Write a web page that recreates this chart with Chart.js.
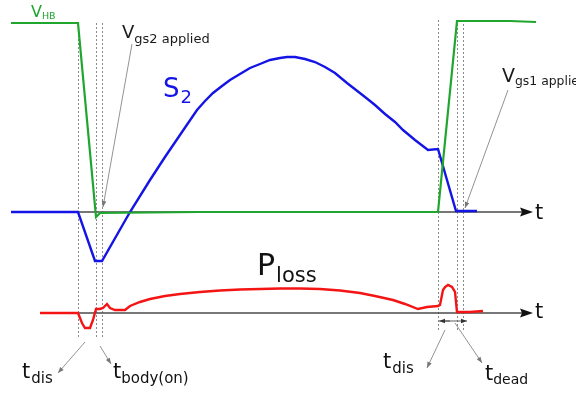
<!DOCTYPE html>
<html><head><meta charset="utf-8">
<script src="https://cdn.jsdelivr.net/npm/chart.js@4/dist/chart.umd.min.js"></script>
<style>html,body{margin:0;padding:0;background:#fff}#wrap{width:576px;height:396px}</style>
</head><body><div id="wrap"><canvas id="c" width="576" height="396"></canvas></div>
<script>
// ---- data (time units along x, level units along y; y grows downward) ----
const vhbT = [11, 78, 96, 100, 200, 300, 438, 457, 510, 536];
const vhbV = [23, 23, 217, 213, 212, 212, 212, 21, 21, 22];

const s2T = [11, 78, 95, 102, 130, 150, 165, 182, 197, 205, 213, 222, 230, 240, 250, 260, 270, 280, 287, 295, 305, 315, 325, 335, 347, 356, 365, 375, 385, 395, 403, 415, 428, 438, 456, 477];
const s2V = [212, 212, 261, 261, 212, 180, 157, 132, 110, 101, 93, 86, 80, 74, 68, 64, 60, 58, 57, 57, 59, 62, 67, 73, 83, 90, 97, 105, 114, 122, 130, 140, 150, 149, 211, 211];

const plossT = [40, 78, 82, 85, 90, 93, 96, 100, 103, 107, 110, 115, 125, 130, 140, 150, 165, 180, 200, 220, 240, 260, 280, 300, 320, 340, 360, 375, 393, 405, 418, 427, 438, 440, 443, 445, 448, 452, 455, 457, 470, 483];
const plossV = [313, 313, 323, 328, 328, 320, 309, 309, 308, 304, 308, 310, 310, 306, 302, 299, 296, 294, 292, 290.5, 289.5, 289, 288.5, 288.5, 289, 290.5, 293, 296, 300, 304, 309, 307, 306, 305, 290, 287, 285, 287, 292, 312, 312, 311];

const markerTimes = [78, 96, 102, 438, 457, 463];
const upperAxisLevel = 212;
const lowerAxisLevel = 313;

const GREEN = '#1ea62e', BLUE = '#1414e6', RED = '#f41414', AX = '#4a4a4a';

function pts(t, v) { return t.map((x, i) => ({ x: x, y: v[i] })); }

const overlay = {
  id: 'overlay',
  beforeDatasetsDraw(chart) {
    const ctx = chart.ctx, xs = chart.scales.x, ys = chart.scales.y;
    const px = v => xs.getPixelForValue(v), py = v => ys.getPixelForValue(v);
    ctx.save();
    // dotted marker lines
    ctx.strokeStyle = '#8a8a8a'; ctx.lineWidth = 1; ctx.setLineDash([2, 2]);
    markerTimes.forEach((t, i) => {
      const top = i < 3 ? 23 : 20, bot = i < 3 ? 338 : 332;
      ctx.beginPath(); ctx.moveTo(Math.round(px(t)) + 0.5, py(top)); ctx.lineTo(Math.round(px(t)) + 0.5, py(bot)); ctx.stroke();
    });
    ctx.setLineDash([]);
    // axes
    ctx.strokeStyle = AX; ctx.fillStyle = '#111'; ctx.lineWidth = 1.5;
    [[11, upperAxisLevel], [40, lowerAxisLevel]].forEach(([x0, lv]) => {
      const y = py(lv);
      ctx.beginPath(); ctx.moveTo(px(x0), y); ctx.lineTo(px(522), y); ctx.stroke();
      ctx.beginPath(); ctx.moveTo(px(533), y); ctx.lineTo(px(520), y - 4.5); ctx.lineTo(px(522), y); ctx.lineTo(px(520), y + 4.5); ctx.closePath(); ctx.fill();
    });
    ctx.restore();
  },
  afterDatasetsDraw(chart) {
    const ctx = chart.ctx, xs = chart.scales.x, ys = chart.scales.y;
    const px = v => xs.getPixelForValue(v), py = v => ys.getPixelForValue(v);
    const F = '"DejaVu Sans", Verdana, sans-serif';
    ctx.save();
    ctx.textBaseline = 'alphabetic'; ctx.textAlign = 'left';
    function sub(main, s, x, y, size, ssize, dy, color, gap) {
      ctx.fillStyle = color;
      ctx.font = size + 'px ' + F;
      ctx.fillText(main, px(x), py(y));
      const w = ctx.measureText(main).width;
      ctx.font = ssize + 'px ' + F;
      ctx.fillText(s, px(x) + w + (gap || 0), py(y + dy));
    }
    function arrow(x1, y1, x2, y2, color) {
      const a = px(x1), b = py(y1), c = px(x2), d = py(y2);
      ctx.strokeStyle = color; ctx.fillStyle = color; ctx.lineWidth = 0.8;
      ctx.beginPath(); ctx.moveTo(a, b); ctx.lineTo(c, d); ctx.stroke();
      const ang = Math.atan2(d - b, c - a), L = 6, W = 2.3;
      ctx.beginPath();
      ctx.moveTo(c, d);
      ctx.lineTo(c - L * Math.cos(ang) + W * Math.sin(ang), d - L * Math.sin(ang) - W * Math.cos(ang));
      ctx.lineTo(c - L * Math.cos(ang) - W * Math.sin(ang), d - L * Math.sin(ang) + W * Math.cos(ang));
      ctx.closePath(); ctx.fill();
    }
    // pointer arrows
    arrow(132, 44, 103, 207, '#777');
    arrow(508, 90, 465, 208, '#777');
    arrow(85, 342, 58, 373, '#777');
    arrow(100, 346, 111, 364, '#777');
    arrow(445, 330, 427, 368, '#777');
    arrow(455, 323, 482, 363, '#777');
    // horizontal interval arrows
    arrow(450, 321, 439, 321, '#333');
    arrow(445, 321, 467, 321, '#333');
    // labels
    sub('V', 'HB', 31, 17, 16, 9.5, 2, GREEN, 0);
    sub('V', 'gs2 applied', 122, 38, 18, 13, 5, '#1a1a1a', 0);
    sub('S', '2', 163, 97, 26, 18, 6, BLUE, 1);
    sub('P', 'loss', 257, 275, 30, 21, 7, '#111', 1);
    sub('V', 'gs1 applied', 502, 82, 19, 12.4, 3, '#1a1a1a', 0);
    sub('t', 'dis', 22, 378, 21, 15, 5, '#111', 1);
    sub('t', 'body(on)', 113, 378, 21, 15, 5, '#111', 0);
    sub('t', 'dis', 383, 368, 21, 15, 5, '#111', 1);
    sub('t', 'dead', 485, 380, 21, 14, 4, '#111', 0);
    ctx.fillStyle = '#111'; ctx.font = '21px ' + F;
    ctx.fillText('t', px(535), py(219));
    ctx.fillText('t', px(535), py(318));
    ctx.restore();
  }
};

new Chart(document.getElementById('c'), {
  type: 'scatter',
  data: {
    datasets: [
      { label: 'VHB', data: pts(vhbT, vhbV), showLine: true, borderColor: GREEN, borderWidth: 2.2, pointRadius: 0, tension: 0 },
      { label: 'S2', data: pts(s2T, s2V), showLine: true, borderColor: BLUE, borderWidth: 2.4, pointRadius: 0, tension: 0 },
      { label: 'Ploss', data: pts(plossT, plossV), showLine: true, borderColor: RED, borderWidth: 2.4, pointRadius: 0, tension: 0 }
    ]
  },
  options: {
    responsive: false, animation: false, events: [],
    layout: { padding: 0 },
    plugins: { legend: { display: false }, tooltip: { enabled: false } },
    scales: {
      x: { type: 'linear', min: 0, max: 576, display: false },
      y: { type: 'linear', min: 0, max: 396, reverse: true, display: false }
    }
  },
  plugins: [overlay]
});
</script></body></html>
